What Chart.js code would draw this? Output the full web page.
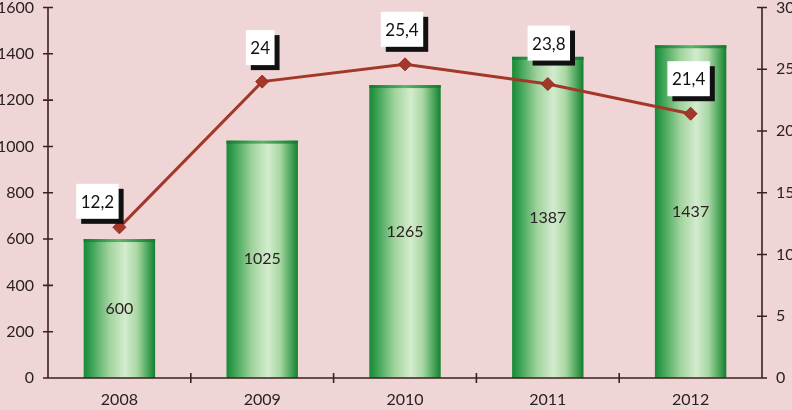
<!DOCTYPE html>
<html>
<head>
<meta charset="utf-8">
<script src="https://cdn.jsdelivr.net/npm/chart.js@4/dist/chart.umd.min.js"></script>
<style>
html,body{margin:0;padding:0;background:#f0d5d6;}
#wrap{width:792px;height:410px;position:relative;}
</style>
</head>
<body>
<div id="wrap"><canvas id="c" width="792" height="410"></canvas></div>
<script>
const years = ['2008', '2009', '2010', '2011', '2012'];
const barValues = [600, 1025, 1265, 1387, 1437];
const lineValues = [12.2, 24, 25.4, 23.8, 21.4];

const FONT = 'Lato, "Open Sans", sans-serif';
const AXIS = '#3a2222';
const TXT = '#2a2222';
const labelOffsets = [[-22, -26], [-2, -34], [-3, -35], [1, -41], [-2, -35]];

const fmt = v => String(v).replace('.', ',');

const customPlugin = {
  id: 'custom',
  afterDatasetDraw(chart, args) {
    if (args.meta.type !== 'bar') return;
    const ctx = chart.ctx;
    ctx.save();
    // cylinder-like bars
    args.meta.data.forEach(el => {
      const l = el.x - el.width / 2, r = el.x + el.width / 2;
      const g = ctx.createLinearGradient(l, 0, r, 0);
      g.addColorStop(0, '#178a36');
      g.addColorStop(0.12, '#3fa457');
      g.addColorStop(0.35, '#9fd29b');
      g.addColorStop(0.58, '#d3ecce');
      g.addColorStop(0.75, '#a9d7a3');
      g.addColorStop(0.9, '#4ba65b');
      g.addColorStop(1, '#137f30');
      ctx.fillStyle = g;
      ctx.fillRect(l, el.y, el.width, el.base - el.y);
      const g2 = ctx.createLinearGradient(l, 0, r, 0);
      g2.addColorStop(0, '#137a30');
      g2.addColorStop(0.5, '#5cb36a');
      g2.addColorStop(1, '#137a30');
      ctx.fillStyle = g2;
      ctx.fillRect(l, el.y, el.width, 3);
    });
    // bar value labels
    ctx.fillStyle = TXT;
    ctx.font = '16px ' + FONT;
    ctx.textAlign = 'center';
    ctx.textBaseline = 'middle';
    args.meta.data.forEach((el, i) => {
      ctx.fillText(String(barValues[i]), el.x, (el.y + el.base) / 2);
    });
    // axes
    const a = chart.chartArea;
    const x = chart.scales.x, y = chart.scales.y, y1 = chart.scales.y1;
    ctx.strokeStyle = AXIS;
    ctx.lineWidth = 1.6;
    ctx.beginPath();
    ctx.moveTo(a.left, a.top); ctx.lineTo(a.left, a.bottom);
    ctx.moveTo(a.right, a.top); ctx.lineTo(a.right, a.bottom);
    ctx.moveTo(a.left, a.bottom); ctx.lineTo(a.right, a.bottom);
    y.ticks.forEach(t => {
      const py = y.getPixelForValue(t.value);
      ctx.moveTo(a.left - 5, py); ctx.lineTo(a.left + 5, py);
    });
    y1.ticks.forEach(t => {
      const py = y1.getPixelForValue(t.value);
      ctx.moveTo(a.right - 5, py); ctx.lineTo(a.right + 5, py);
    });
    const step = (a.right - a.left) / years.length;
    for (let i = 1; i < years.length; i++) {
      const px = x.getPixelForValue(i) - step / 2;
      ctx.moveTo(px, a.bottom - 5); ctx.lineTo(px, a.bottom + 5);
    }
    ctx.stroke();
    ctx.restore();
  },
  afterDraw(chart) {
    const ctx = chart.ctx;
    const meta = chart.getDatasetMeta(1);
    ctx.save();
    ctx.font = '17px ' + FONT;
    ctx.textAlign = 'center';
    ctx.textBaseline = 'middle';
    meta.data.forEach((pt, i) => {
      const txt = fmt(lineValues[i]);
      const w = ctx.measureText(txt).width + 9;
      const h = 35;
      const cx = pt.x + labelOffsets[i][0];
      const cy = pt.y + labelOffsets[i][1];
      ctx.fillStyle = '#111';
      ctx.fillRect(cx - w / 2 + 5, cy - h / 2 + 5, w, h);
      ctx.fillStyle = '#ffffff';
      ctx.fillRect(cx - w / 2, cy - h / 2, w, h);
      ctx.fillStyle = '#111';
      ctx.fillText(txt, cx, cy + 1);
    });
    ctx.restore();
  }
};

const tickFont = { family: FONT, size: 16 };

new Chart(document.getElementById('c'), {
  data: {
    labels: years,
    datasets: [
      {
        type: 'bar',
        data: barValues,
        yAxisID: 'y',
        backgroundColor: 'rgba(0,0,0,0)',
        borderWidth: 0,
        categoryPercentage: 1,
        barPercentage: 0.5,
        order: 1
      },
      {
        type: 'line',
        data: lineValues,
        yAxisID: 'y1',
        borderColor: '#a3382a',
        borderWidth: 3,
        pointStyle: 'rectRot',
        pointRadius: 6.5,
        pointBackgroundColor: '#a3382a',
        pointBorderColor: '#8f2d20',
        pointBorderWidth: 1,
        tension: 0,
        order: 0
      }
    ]
  },
  options: {
    responsive: false,
    animation: false,
    events: [],
    layout: { padding: { top: 5, left: 0, right: 0, bottom: 0 } },
    plugins: { legend: { display: false }, tooltip: { enabled: false } },
    scales: {
      x: {
        grid: { display: false, drawTicks: false },
        border: { display: false },
        ticks: { color: TXT, font: tickFont, padding: 12 },
        afterFit(s) { s.height = 32; s.paddingLeft = 0; s.paddingRight = 0; }
      },
      y: {
        position: 'left',
        min: 0, max: 1600,
        grid: { display: false, drawTicks: false },
        border: { display: false },
        ticks: { stepSize: 200, color: TXT, font: tickFont, padding: 14, callback: v => String(v) },
        afterFit(s) { s.width = 48; s.paddingTop = 0; s.paddingBottom = 0; }
      },
      y1: {
        position: 'right',
        min: 0, max: 30,
        grid: { display: false, drawTicks: false },
        border: { display: false },
        ticks: { stepSize: 5, color: TXT, font: tickFont, padding: 14, callback: v => String(v) },
        afterFit(s) { s.width = 30; s.paddingTop = 0; s.paddingBottom = 0; }
      }
    }
  },
  plugins: [customPlugin]
});
</script>
</body>
</html>
